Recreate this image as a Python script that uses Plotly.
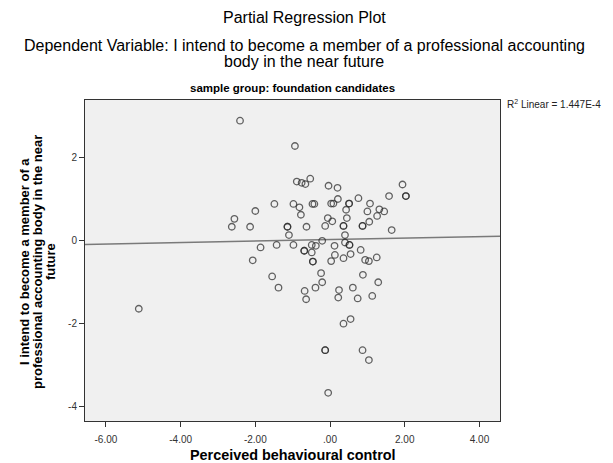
import numpy as np
import plotly.graph_objects as go

# Perceived behavioural control (partial residuals)
pbc = [
    -2.41, -0.94, -0.89, -0.76, -0.66, -0.53,
    -1.49, -0.98, -0.47, -0.42, -0.82, -0.78,
    -2.00, -2.56, -2.63, -2.14, -1.14, -1.14, -0.63, -1.10,
    -1.86, -1.43, -0.98, -0.69, -0.69, -0.49, -0.38, -0.49, -0.46, -0.46,
    -2.07, -1.55, -1.38, -0.68, -0.39, -0.64,
    -0.04, 0.20, 0.21, 0.76, 1.58, 1.94, 2.03, 2.03,
    0.03, 0.09, 0.51, 0.51, 1.07,
    0.43, -0.06, 0.45, 1.00, 1.32, 1.45, 1.26, 1.05,
    -0.13, 0.06, 0.36, 0.36, 0.87, 0.87, 1.65, 0.40,
    -0.21, 0.40, 0.52, 0.52, 0.12, 0.13, 0.03, 0.36, 0.55, 0.82, 0.94, 1.04, 1.25,
    -0.24, -0.21, 0.88, 1.29, 0.24, 0.61, 0.22, 0.74, 1.13,
    0.55, 0.36, -0.13, -0.13, 0.87, 1.04, -0.05,
    -5.12,
]
# Intention to become a member (partial residuals)
intent = [
    2.89, 2.28, 1.42, 1.39, 1.36, 1.49,
    0.88, 0.88, 0.88, 0.88, 0.80, 0.62,
    0.71, 0.52, 0.33, 0.33, 0.33, 0.33, 0.33, 0.13,
    -0.17, -0.11, -0.11, -0.25, -0.25, -0.11, -0.13, -0.29, -0.51, -0.51,
    -0.48, -0.87, -1.14, -1.22, -1.14, -1.42,
    1.32, 1.27, 1.00, 1.02, 1.07, 1.35, 1.07, 1.07,
    0.89, 0.89, 0.89, 0.89, 0.89,
    0.74, 0.54, 0.54, 0.70, 0.75, 0.70, 0.59, 0.45,
    0.35, 0.46, 0.35, 0.35, 0.35, 0.35, 0.25, 0.13,
    -0.01, -0.05, -0.11, -0.11, -0.13, -0.35, -0.50, -0.43, -0.33, -0.23, -0.47, -0.50, -0.41,
    -0.79, -1.01, -0.83, -1.01, -1.20, -1.14, -1.38, -1.40, -1.34,
    -1.90, -2.01, -2.65, -2.65, -2.65, -2.89, -3.68,
    -1.65,
]

# Linear fit shown in the chart
fit_intercept = 0.02
fit_slope = 0.018
r2_text = "R<sup>2</sup> Linear = 1.447E-4"

title_main = "Partial Regression Plot"
title_dep = ["Dependent Variable: I intend to become a member of a professional accounting",
             "body in the near future"]
title_group = "sample group: foundation candidates"
y_title_lines = ["I intend to become a member of a",
                 "professional accounting body in the near",
                 "future"]
x_title = "Perceived behavioural control"

x_range = [-6.56, 4.55]
y_range = [-4.36, 3.39]
x_tickvals = [-6, -4, -2, 0, 2, 4]
x_ticktext = ["-6.00", "-4.00", "-2.00", ".00", "2.00", "4.00"]
y_tickvals = [-4, -2, 0, 2]
y_ticktext = ["-4", "-2", "0", "2"]

FONT = "Liberation Sans, Arial, sans-serif"
W, H = 613, 463
ML, MR, MT, MB = 85, 113, 100, 42
PW, PH = W - ML - MR, H - MT - MB


def px_x(px):
    return (px - ML) / PW


def px_y(py):
    return 1 - (py - MT) / PH


fig = go.Figure()

fx = np.array(x_range)
fig.add_trace(go.Scatter(
    x=fx, y=fit_intercept + fit_slope * fx, mode="lines",
    line=dict(color="#7a7a7a", width=1.5), hoverinfo="skip", showlegend=False,
))
fig.add_trace(go.Scatter(
    x=pbc, y=intent, mode="markers",
    marker=dict(symbol="circle-open", size=6.5,
                line=dict(width=1.3), color="rgba(40,40,40,0.72)"),
    showlegend=False,
))

annots = [
    dict(text=title_main, x=px_x(304), y=px_y(17), font=dict(size=16)),
    dict(text=title_dep[0], x=px_x(304), y=px_y(45), font=dict(size=16)),
    dict(text=title_dep[1], x=px_x(304), y=px_y(61), font=dict(size=16)),
    dict(text="<b>" + title_group + "</b>", x=px_x(292.5), y=px_y(88),
         font=dict(size=11.5)),
    dict(text="<b>" + x_title + "</b>", x=px_x(292.5), y=px_y(455),
         font=dict(size=14.4)),
]
for i, line in enumerate(y_title_lines):
    annots.append(dict(text="<b>" + line + "</b>", x=px_x(24 + 13 * i),
                       y=px_y(262), textangle=-90, font=dict(size=13)))
for a in annots:
    a.update(xref="paper", yref="paper", xanchor="center", yanchor="middle",
             showarrow=False)
annots.append(dict(text=r2_text, xref="paper", yref="paper", x=px_x(505),
                   y=px_y(104), xanchor="left", yanchor="middle",
                   showarrow=False, font=dict(size=10, color="#222")))

fig.update_layout(
    width=W, height=H,
    margin=dict(l=ML, r=MR, t=MT, b=MB),
    paper_bgcolor="white", plot_bgcolor="#f0f0f0",
    font=dict(family=FONT, color="#000"),
    xaxis=dict(range=x_range, tickvals=x_tickvals, ticktext=x_ticktext,
               showgrid=False, zeroline=False, ticks="outside", ticklen=5,
               tickcolor="#333", tickfont=dict(size=10, color="#333"),
               ticklabelstandoff=4,
               showline=True, linecolor="#333", linewidth=1, mirror=True),
    yaxis=dict(range=y_range, tickvals=y_tickvals, ticktext=y_ticktext,
               showgrid=False, zeroline=False, ticks="outside", ticklen=5,
               tickcolor="#333", tickfont=dict(size=10, color="#333"),
               showline=True, linecolor="#333", linewidth=1, mirror=True),
    annotations=annots,
)

fig.write_html("out.html")
